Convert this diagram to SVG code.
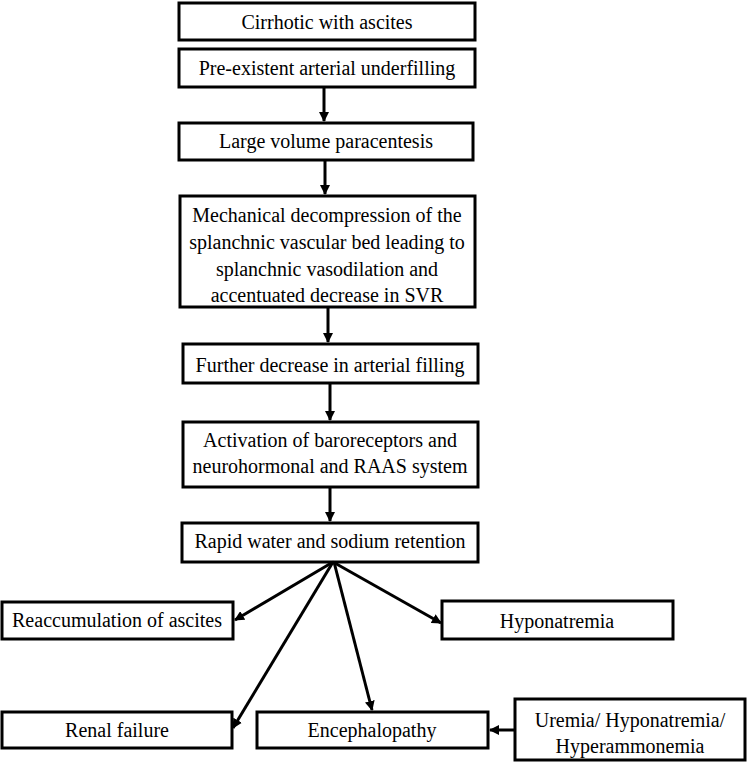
<svg xmlns="http://www.w3.org/2000/svg" width="747" height="763" viewBox="0 0 747 763">
<defs>
<marker id="ah" markerWidth="10" markerHeight="10" refX="9" refY="5" orient="auto" markerUnits="userSpaceOnUse">
<path d="M0,0 L10,5 L0,10 Z" fill="#000"/>
</marker>
<style>
rect{fill:#fff;stroke:#000;stroke-width:3}
text{font-family:"Liberation Serif","Times New Roman",serif;font-size:20px;fill:#000;text-anchor:middle}
.c line{stroke:#000;stroke-width:3}
</style>
</defs>
<rect x="0" y="0" width="747" height="763" style="stroke:none"/>
<g id="n1"><rect x="179" y="3" width="296" height="37"/><text x="327" y="29">Cirrhotic with ascites</text></g>
<g id="n2"><rect x="179" y="49" width="296" height="38"/><text x="327" y="75">Pre-existent arterial underfilling</text></g>
<g id="n3"><rect x="179" y="123" width="294" height="37"/><text x="326" y="148">Large volume paracentesis</text></g>
<g id="n4"><rect x="180" y="196" width="295" height="111"/><text x="327" y="222">Mechanical decompression of the</text><text x="327" y="249">splanchnic vascular bed leading to</text><text x="327" y="276">splanchnic vasodilation and</text><text x="327" y="302">accentuated decrease in SVR</text></g>
<g id="n5"><rect x="183" y="344" width="295" height="39"/><text x="330" y="372">Further decrease in arterial filling</text></g>
<g id="n6"><rect x="183" y="422" width="295" height="65"/><text x="330" y="447">Activation of baroreceptors and</text><text x="330" y="473">neurohormonal and RAAS system</text></g>
<g id="n7"><rect x="182" y="523" width="296" height="39"/><text x="330" y="548">Rapid water and sodium retention</text></g>
<g id="n8"><rect x="2" y="602" width="231" height="37"/><text x="117" y="627">Reaccumulation of ascites</text></g>
<g id="n9"><rect x="442" y="601" width="231" height="38"/><text x="557" y="628">Hyponatremia</text></g>
<g id="n10"><rect x="2" y="712" width="230" height="36"/><text x="117" y="737">Renal failure</text></g>
<g id="n11"><rect x="257" y="712" width="231" height="36"/><text x="372" y="737">Encephalopathy</text></g>
<g id="n12"><rect x="515" y="699" width="230" height="61"/><text x="630" y="727">Uremia/ Hyponatremia/</text><text x="630" y="753">Hyperammonemia</text></g>
<g id="connectors" class="c">
<line x1="324" y1="87" x2="324" y2="121" marker-end="url(#ah)"/>
<line x1="325" y1="160" x2="325" y2="194" marker-end="url(#ah)"/>
<line x1="328" y1="307" x2="328" y2="342" marker-end="url(#ah)"/>
<line x1="330" y1="383" x2="330" y2="420" marker-end="url(#ah)"/>
<line x1="330" y1="487" x2="330" y2="521" marker-end="url(#ah)"/>
<line x1="333" y1="562" x2="235" y2="620" marker-end="url(#ah)"/>
<line x1="333" y1="562" x2="441" y2="623" marker-end="url(#ah)"/>
<line x1="333" y1="562" x2="233" y2="728" marker-end="url(#ah)"/>
<line x1="334" y1="562" x2="372" y2="710" marker-end="url(#ah)"/>
<line x1="515" y1="730" x2="490" y2="730" marker-end="url(#ah)"/>
</g>
</svg>
